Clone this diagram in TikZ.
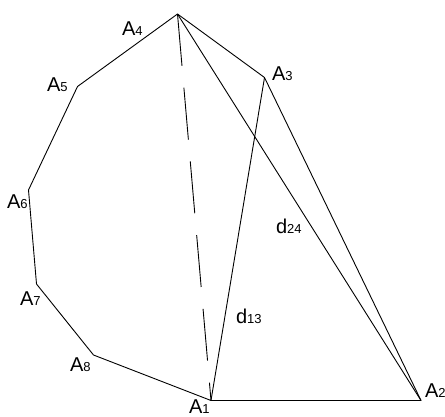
\documentclass[tikz,border=0pt]{standalone}
\usepackage{fontspec}
\setmainfont{Liberation Sans}
\newcommand\biglab[2]{{\fontsize{20}{20}\selectfont #1}{\fontsize{13}{13}\selectfont #2}}
\begin{document}
\begin{tikzpicture}[x=1pt,y=-1pt,
  edge/.style={line width=0.9pt,black},
  dashedge/.style={line width=0.9pt,black,dash pattern=on 52pt off 22pt},
  lab/.style={anchor=base west,inner sep=0pt,outer sep=0pt}]
\useasboundingbox (0,0) rectangle (445,416);
\coordinate (A1) at (211,400.5);
\coordinate (A2) at (421,400.5);
\coordinate (A3) at (264.5,77.5);
\coordinate (A4) at (177.5,14);
\coordinate (A5) at (77.5,86.5);
\coordinate (A6) at (28.5,190);
\coordinate (A7) at (36.5,284);
\coordinate (A8) at (93.5,355);
\draw[edge,line join=round] (A1) -- (A2) -- (A3) -- (A4) -- (A5) -- (A6) -- (A7) -- (A8) -- (A1);
\draw[edge] (A1) -- (A3);
\draw[edge] (A2) -- (A4);
\draw[dashedge] (A4) -- (A1);
\node[lab] (l4) at (122,35) {\biglab{A}{4}};
\node[lab] (l3) at (272,80) {\biglab{A}{3}};
\node[lab] (l5) at (47,91) {\biglab{A}{5}};
\node[lab] (l6) at (7,208) {\biglab{A}{6}};
\node[lab] (l7) at (20,305) {\biglab{A}{7}};
\node[lab] (l8) at (70,371) {\biglab{A}{8}};
\node[lab] (l1) at (189,413) {\biglab{A}{1}};
\node[lab] (l2) at (425,397) {\biglab{A}{2}};
\node[lab] (d24) at (276,233) {\biglab{d}{24}};
\node[lab] (d13) at (236,323) {\biglab{d}{13}};
\end{tikzpicture}
\end{document}
